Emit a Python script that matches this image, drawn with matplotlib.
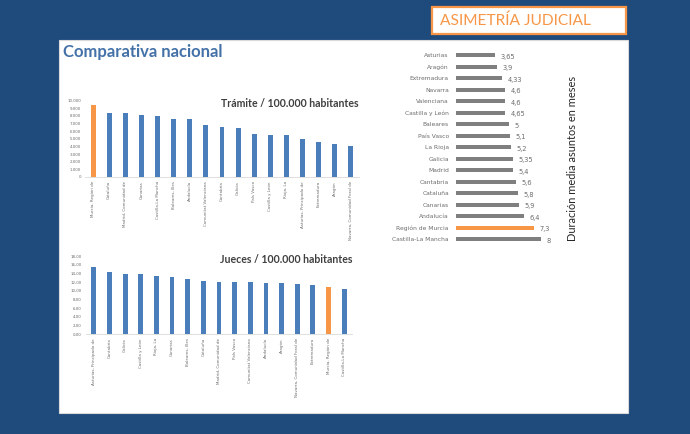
import matplotlib
matplotlib.use("Agg")
import matplotlib.pyplot as plt
from matplotlib.patches import Rectangle

W_PX, H_PX = 690, 434

# ── data ───────────────────────────────────────────────────────────────────
tram_regions = ["Murcia, Región de", "Cataluña", "Madrid, Comunidad de", "Canarias",
                "Castilla-La Mancha", "Baleares, Illes", "Andalucía",
                "Comunitat Valenciana", "Cantabria", "Galicia", "País Vasco",
                "Castilla y León", "Rioja, La", "Asturias, Principado de",
                "Extremadura", "Aragón", "Navarra, Comunidad Foral de"]
tram_values = [9390, 8400, 8400, 8140, 8010, 7620, 7570, 6840, 6530, 6360,
               5670, 5490, 5490, 4970, 4590, 4370, 4030]

jueces_regions = ["Asturias, Principado de", "Cantabria", "Galicia", "Castilla y León",
                  "Rioja, La", "Canarias", "Baleares, Illes", "Cataluña",
                  "Madrid, Comunidad de", "País Vasco", "Comunitat Valenciana",
                  "Andalucía", "Aragón", "Navarra, Comunidad Foral de",
                  "Extremadura", "Murcia, Región de", "Castilla-La Mancha"]
jueces_values = [15.5, 14.4, 13.8, 13.8, 13.3, 13.2, 12.6, 12.2, 12.1, 12.0,
                 11.9, 11.85, 11.7, 11.5, 11.4, 10.9, 10.5]

dur_regions = ["Asturias", "Aragón", "Extremadura", "Navarra", "Valenciana",
               "Castilla y León", "Baleares", "País Vasco", "La Rioja", "Galicia",
               "Madrid", "Cantabria", "Cataluña", "Canarias", "Andalucía",
               "Región de Murcia", "Castilla-La Mancha"]
dur_values = [3.65, 3.9, 4.33, 4.6, 4.6, 4.65, 5, 5.1, 5.2, 5.35, 5.4, 5.6,
              5.8, 5.9, 6.4, 7.3, 8]
dur_labels = ["3,65", "3,9", "4,33", "4,6", "4,6", "4,65", "5", "5,1", "5,2",
              "5,35", "5,4", "5,6", "5,8", "5,9", "6,4", "7,3", "8"]

HIGHLIGHT = "Murcia, Región de"

BG = "#1f4a7c"
BLUE = "#4a7ebb"
ORANGE = "#f79646"
GREY_BAR = "#7f7f7f"
TXT = "#6b6b6b"
FONT = "Lato"


def px_axes(fig, x0, y0, x1, y1, **kw):
    """add axes from pixel box (top-left origin)"""
    ax = fig.add_axes([x0 / W_PX, 1 - y1 / H_PX, (x1 - x0) / W_PX, (y1 - y0) / H_PX], **kw)
    ax.set_zorder(2)
    ax.patch.set_alpha(0)
    return ax


fig = plt.figure(figsize=(6.9, 4.34), dpi=100, facecolor=BG)

# white slide panel + title box
fig.patches.append(Rectangle((59 / W_PX, 1 - 413 / H_PX), (628 - 59) / W_PX, (413 - 40) / H_PX,
                             transform=fig.transFigure, facecolor="white", edgecolor="#d9d9d9",
                             lw=0.8, zorder=-1))
fig.patches.append(Rectangle((432 / W_PX, 1 - 34 / H_PX), (626 - 432) / W_PX, (34 - 7) / H_PX,
                             transform=fig.transFigure, facecolor="white", edgecolor=ORANGE,
                             lw=1.6, zorder=-1))
fig.text(440 / W_PX, 1 - 21 / H_PX, "ASIMETRÍA JUDICIAL", color=ORANGE, fontsize=11.2,
         family=FONT, va="center", ha="left")
fig.text(63 / W_PX, 1 - 52 / H_PX, "Comparativa nacional", color="#4472a8", fontsize=12,
         family=FONT, weight="bold", va="center", ha="left")


def column_chart(ax, regions, values, ymax, ystep, fmt, title):
    x = range(len(regions))
    colors = [ORANGE if r == HIGHLIGHT else BLUE for r in regions]
    ax.bar(x, values, width=0.31, color=colors, zorder=2)
    ax.set_xlim(-0.5, len(regions) - 0.5)
    ax.set_ylim(0, ymax)
    ticks = [i * ystep for i in range(int(round(ymax / ystep)) + 1)]
    ax.set_yticks(ticks)
    ax.set_yticklabels([fmt(t) for t in ticks])
    ax.set_xticks(list(x))
    ax.set_xticklabels(regions, rotation=90)
    ax.tick_params(axis="both", length=0, labelsize=2.9, colors=TXT, pad=3)
    for s in ["top", "right", "left"]:
        ax.spines[s].set_visible(False)
    ax.spines["bottom"].set_color("#d9d9d9")
    ax.spines["bottom"].set_linewidth(0.6)
    ax.text(1.0, 0.96, title, transform=ax.transAxes, ha="right", va="center",
            fontsize=7.6, color="#404040", family=FONT, weight="bold")


ax1 = px_axes(fig, 85, 100.7, 359, 177)
column_chart(ax1, tram_regions, tram_values, 10000, 1000,
             lambda v: f"{int(v):,}".replace(",", "."), "Trámite / 100.000 habitantes")

ax2 = px_axes(fig, 86, 256, 352, 334)
column_chart(ax2, jueces_regions, jueces_values, 18, 2,
             lambda v: f"{v:.2f}".replace(".", ","), "Jueces / 100.000 habitantes")

# ── horizontal bar chart: duración media ──────────────────────────────────
ax3 = px_axes(fig, 455.7, 49.5, 562.7, 245)
y = range(len(dur_regions))
hcolors = [ORANGE if r == "Región de Murcia" else GREY_BAR for r in dur_regions]
ax3.barh(y, dur_values, height=0.35, color=hcolors)
ax3.set_xlim(0, 10)
ax3.set_ylim(len(dur_regions) - 0.5, -0.5)
ax3.set_yticks(list(y))
ax3.set_yticklabels(dur_regions)
ax3.set_xticks([])
ax3.tick_params(axis="y", length=0, labelsize=4.3, colors=TXT, pad=5)
for s in ax3.spines.values():
    s.set_visible(False)
for yi, v, lab in zip(y, dur_values, dur_labels):
    ax3.text(v + 0.5, yi + 0.15, lab, va="center", ha="left", fontsize=4.8, color=TXT)

fig.text(573 / W_PX, 1 - 158 / H_PX, "Duración media asuntos en meses", rotation=90,
         ha="center", va="center", fontsize=7.9, color="#262626", family=FONT)

fig.savefig("out.png", dpi=100, facecolor=BG)
